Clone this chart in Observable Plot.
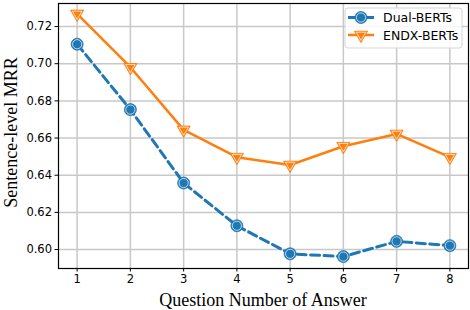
<!DOCTYPE html>
<html>
<head>
<meta charset="utf-8">
<script src="https://cdn.jsdelivr.net/npm/d3@7"></script>
<script src="https://cdn.jsdelivr.net/npm/@observablehq/plot@0.6"></script>
<style>
  html, body { margin: 0; padding: 0; background: #fff; }
  #chart { width: 470px; height: 310px; }
</style>
</head>
<body>
<div id="chart"></div>
<script>
const questionNumbers = [1, 2, 3, 4, 5, 6, 7, 8];
const dualBerts = [0.7105, 0.6753, 0.6358, 0.6128, 0.5977, 0.5962, 0.6044, 0.6021];
const endxBerts = [0.7268, 0.6981, 0.6644, 0.6497, 0.6455, 0.6556, 0.6622, 0.6497];
const yTicks = [0.60, 0.62, 0.64, 0.66, 0.68, 0.70, 0.72];
const seriesNames = ["Dual-BERTs", "ENDX-BERTs"];
const xLabel = "Question Number of Answer";
const yLabel = "Sentence-level MRR";

const BLUE = "#1f77b4", ORANGE = "#ff7f0e";
const dual = questionNumbers.map((q, i) => ({q, v: dualBerts[i]}));
const endx = questionNumbers.map((q, i) => ({q, v: endxBerts[i]}));

const W = 470, H = 310, ML = 58, MR = 2, MT = 3, MB = 42;

const plot = Plot.plot({
  width: W, height: H,
  marginLeft: ML, marginRight: MR, marginTop: MT, marginBottom: MB,
  style: {fontFamily: "DejaVu Sans", fontSize: "11.5px", color: "#000", background: "#fff"},
  x: {domain: [0.65, 8.35]},
  y: {domain: [0.5898, 0.7324]},
  marks: [
    Plot.gridX(questionNumbers, {stroke: "#c8c8c8", strokeOpacity: 1, strokeWidth: 1.5}),
    Plot.gridY(yTicks, {stroke: "#c8c8c8", strokeOpacity: 1, strokeWidth: 1.5}),
    Plot.axisX(questionNumbers, {tickSize: 3.5, tickPadding: 3, tickFormat: d => String(d), label: null, stroke: "#000"}),
    Plot.axisY(yTicks, {tickSize: 3.5, tickPadding: 3, tickFormat: d3.format(".2f"), label: null, stroke: "#000"}),
    Plot.line(dual, {x: "q", y: "v", stroke: BLUE, strokeWidth: 3, strokeDasharray: "9,4.5"}),
    Plot.dot(dual, {x: "q", y: "v", r: 6, fill: BLUE, stroke: BLUE, strokeWidth: 0.8}),
    Plot.dot(dual, {x: "q", y: "v", r: 4.6, fill: "none", stroke: "#fff", strokeWidth: 0.7}),
    Plot.line(endx, {x: "q", y: "v", stroke: ORANGE, strokeWidth: 2.5}),
    Plot.dot(endx, {x: "q", y: "v", r: 4.9, symbol: "triangle", rotate: 180, fill: ORANGE, stroke: ORANGE, strokeWidth: 0.8}),
    Plot.dot(endx, {x: "q", y: "v", r: 3.5, symbol: "triangle", rotate: 180, fill: "none", stroke: "#fff", strokeWidth: 0.7}),
    Plot.frame({stroke: "#000", strokeWidth: 1.2})
  ]
});
document.getElementById("chart").appendChild(plot);

const svg = d3.select(plot);
// axis labels
svg.append("text")
  .attr("x", ML + (W - ML - MR) / 2).attr("y", 306)
  .attr("text-anchor", "middle")
  .attr("font-family", "Liberation Serif, Times New Roman, serif")
  .attr("font-size", 18).attr("fill", "#000")
  .text(xLabel);
svg.append("text")
  .attr("transform", `translate(17, ${MT + (H - MT - MB) / 2 - 3}) rotate(-90)`)
  .attr("text-anchor", "middle")
  .attr("font-family", "Liberation Serif, Times New Roman, serif")
  .attr("font-size", 18).attr("fill", "#000")
  .text(yLabel);

// legend
const lg = svg.append("g");
lg.append("rect").attr("x", 345).attr("y", 8).attr("width", 117).attr("height", 40)
  .attr("rx", 3).attr("fill", "#fff").attr("fill-opacity", 0.85)
  .attr("stroke", "#d6d6d6").attr("stroke-width", 1);
const entries = [
  {name: seriesNames[0], color: BLUE, y: 17.5, sym: "circle"},
  {name: seriesNames[1], color: ORANGE, y: 35, sym: "tri"}
];
entries.forEach(e => {
  lg.append("line").attr("x1", 348).attr("x2", 374).attr("y1", e.y).attr("y2", e.y)
    .attr("stroke", e.color).attr("stroke-width", e.sym === "circle" ? 3 : 2.5);
  if (e.sym === "circle") {
    lg.append("circle").attr("cx", 361).attr("cy", e.y).attr("r", 6).attr("fill", e.color).attr("stroke", e.color).attr("stroke-width", 0.8);
    lg.append("circle").attr("cx", 361).attr("cy", e.y).attr("r", 4.6).attr("fill", "none").attr("stroke", "#fff").attr("stroke-width", 0.7);
  } else {
    const big = d3.symbol(d3.symbolTriangle, Math.PI * 4.9 * 4.9)();
    const small = d3.symbol(d3.symbolTriangle, Math.PI * 3.5 * 3.5)();
    lg.append("path").attr("d", big).attr("transform", `translate(361,${e.y}) rotate(180)`).attr("fill", e.color).attr("stroke", e.color).attr("stroke-width", 0.8);
    lg.append("path").attr("d", small).attr("transform", `translate(361,${e.y}) rotate(180)`).attr("fill", "none").attr("stroke", "#fff").attr("stroke-width", 0.7);
  }
  lg.append("text").attr("x", 383).attr("y", e.y + 4.5)
    .attr("text-anchor", "start")
    .attr("font-family", "DejaVu Sans").attr("font-size", 12.5).attr("fill", "#000")
    .text(e.name);
});
</script>
</body>
</html>
